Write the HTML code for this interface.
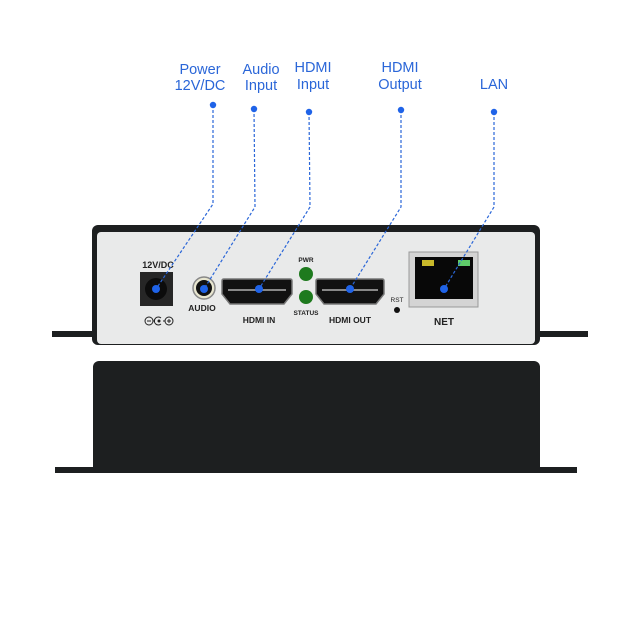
<!DOCTYPE html>
<html><head><style>body{margin:0;background:#fff;}svg{display:block}</style></head><body>
<svg width="640" height="640" viewBox="0 0 640 640" xmlns="http://www.w3.org/2000/svg" font-family="Liberation Sans, sans-serif">
<rect width="640" height="640" fill="#fff"/>
<rect x="52" y="331" width="536" height="6" fill="#1d1f20"/>
<rect x="92" y="225" width="448" height="120" rx="6" fill="#1d1f20"/>
<rect x="97" y="232" width="438" height="112" rx="4" fill="#e9eaea"/>
<rect x="140" y="272" width="33" height="34" fill="#262626"/>
<circle cx="156" cy="289" r="11" fill="#0c0c0c"/>
<text x="158" y="268" font-size="9" font-weight="bold" text-anchor="middle" fill="#222">12V/DC</text>
<g stroke="#222" stroke-width="1" fill="none">
<circle cx="149" cy="321" r="4"/><line x1="147" y1="321" x2="151" y2="321"/>
<line x1="153" y1="321" x2="155" y2="321"/>
<path d="M161 318 A4 4 0 1 0 161 324"/><circle cx="159" cy="321" r="1" fill="#222"/>
<line x1="163" y1="321" x2="165" y2="321"/>
<circle cx="169" cy="321" r="4"/><line x1="167" y1="321" x2="171" y2="321"/><line x1="169" y1="319" x2="169" y2="323"/>
</g>
<circle cx="204" cy="288" r="11" fill="#e8e6d0" stroke="#888" stroke-width="1.5"/>
<circle cx="204" cy="288" r="8" fill="#111"/>
<text x="202" y="311" font-size="8.5" font-weight="bold" text-anchor="middle" fill="#222">AUDIO</text>
<path d="M222 281 Q222 279 224 279 L290 279 Q292 279 292 281 L292 294 L284 304 L230 304 L222 294 Z" fill="#111" stroke="#777" stroke-width="1.5"/>
<rect x="228" y="289" width="58" height="2" fill="#888"/>
<text x="259" y="323" font-size="8.5" font-weight="bold" text-anchor="middle" fill="#222">HDMI IN</text>
<text x="306" y="262" font-size="6.5" font-weight="bold" text-anchor="middle" fill="#222">PWR</text>
<circle cx="306" cy="274" r="7" fill="#1e7a1e"/>
<circle cx="306" cy="297" r="7" fill="#1e7a1e"/>
<text x="306" y="315" font-size="6.5" font-weight="bold" text-anchor="middle" fill="#222">STATUS</text>
<path d="M316 281 Q316 279 318 279 L382 279 Q384 279 384 281 L384 294 L376 304 L324 304 L316 294 Z" fill="#111" stroke="#777" stroke-width="1.5"/>
<rect x="322" y="289" width="56" height="2" fill="#888"/>
<text x="350" y="323" font-size="8.5" font-weight="bold" text-anchor="middle" fill="#222">HDMI OUT</text>
<text x="397" y="302" font-size="6.5" text-anchor="middle" fill="#222">RST</text>
<circle cx="397" cy="310" r="3" fill="#111"/>
<rect x="409" y="252" width="69" height="55" fill="#d4d4d4" stroke="#999" stroke-width="1"/>
<rect x="415" y="257" width="58" height="42" fill="#080808"/>
<rect x="422" y="260" width="12" height="6" fill="#c8b82a"/>
<rect x="458" y="260" width="12" height="6" fill="#5fcc6a"/>
<text x="444" y="325" font-size="10" font-weight="bold" text-anchor="middle" fill="#222">NET</text>
<rect x="55" y="467" width="522" height="6" fill="#1d1f20"/>
<rect x="93" y="361" width="447" height="112" rx="6" fill="#1d1f20"/>
<g fill="#2a66d8" font-size="14.5" text-anchor="middle">
<text x="200" y="74">Power</text><text x="200" y="90">12V/DC</text>
<text x="261" y="74">Audio</text><text x="261" y="90">Input</text>
<text x="313" y="72">HDMI</text><text x="313" y="89">Input</text>
<text x="400" y="72">HDMI</text><text x="400" y="89">Output</text>
<text x="494" y="89">LAN</text>
</g>
<g stroke="#2a66d8" stroke-width="1.2" stroke-dasharray="3,2" fill="none">
<polyline points="213,105 213,204 156,289"/>
<polyline points="254,109 255,207 204,289"/>
<polyline points="309,112 310,207 259,289"/>
<polyline points="401,110 401,207 350,289"/>
<polyline points="494,112 494,207 444,289"/>
</g>
<g fill="#1f63e8">
<circle cx="213" cy="105" r="3.2"/><circle cx="254" cy="109" r="3.2"/><circle cx="309" cy="112" r="3.2"/><circle cx="401" cy="110" r="3.2"/><circle cx="494" cy="112" r="3.2"/>
<circle cx="156" cy="289" r="4"/><circle cx="204" cy="289" r="4"/><circle cx="259" cy="289" r="4"/><circle cx="350" cy="289" r="4"/><circle cx="444" cy="289" r="4"/>
</g>
</svg>
</body></html>
